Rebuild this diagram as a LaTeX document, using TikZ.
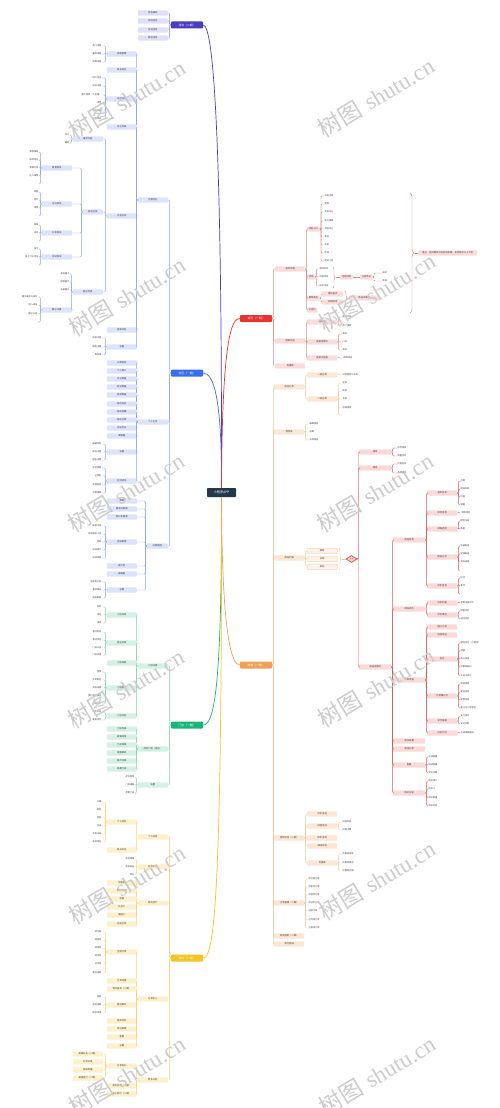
\documentclass[tikz,border=0pt]{standalone}
\usepackage{fontspec}
\newfontfamily\cjk{Noto Sans CJK SC}
\newfontfamily\wmserif{Liberation Serif}
\usetikzlibrary{shapes.geometric,decorations.pathreplacing}
\definecolor{rootc}{HTML}{22394A}
\definecolor{txtc}{HTML}{404040}
\definecolor{puC}{HTML}{4A3DBF}\definecolor{puL}{HTML}{8F88D8}\definecolor{puF}{HTML}{DFE0F7}
\definecolor{blC}{HTML}{3A6DF0}\definecolor{blL}{HTML}{93A1E8}\definecolor{blF}{HTML}{DDE3FB}
\definecolor{grC}{HTML}{18B67A}\definecolor{grL}{HTML}{7FD3AE}\definecolor{grF}{HTML}{D3F1E4}
\definecolor{yeC}{HTML}{F3C623}\definecolor{yeL}{HTML}{F0D57A}\definecolor{yeF}{HTML}{FDF1CC}
\definecolor{reC}{HTML}{E8322E}\definecolor{reL}{HTML}{D48A8A}\definecolor{reF}{HTML}{FBDCDC}
\definecolor{orC}{HTML}{F2A154}\definecolor{orL}{HTML}{F3C597}\definecolor{orF}{HTML}{FDE6D4}
\definecolor{pkL}{HTML}{D25A5A}\definecolor{pkF}{HTML}{FBD9D9}
\newcommand\KL[5]{\foreach \yy/\lbl [count=\i] in {#5}{\node[#3,anchor=east] (#2\i) at (#4,\yy) {\lbl}; \draw[ln] (#1.west) -- ++(-1.2,0) |- (#2\i.east);}}
\newcommand\KR[5]{\foreach \yy/\lbl [count=\i] in {#5}{\node[#3,anchor=west] (#2\i) at (#4,\yy) {\lbl}; \draw[ln] (#1.east) -- ++(1.2,0) |- (#2\i.west);}}
\begin{document}
\begin{tikzpicture}[x=1pt,y=-1pt,
 boxbase/.style={font=\cjk\fontsize{2.3}{2.6}\selectfont,text=txtc,rounded corners=0.8pt,minimum width=30pt,minimum height=5.4pt,inner sep=0.5pt},
 lf/.style={font=\cjk\fontsize{2.2}{2.5}\selectfont,text=txtc,inner sep=0.4pt},
 lnbase/.style={line width=0.45pt,rounded corners=1pt},
 br/.style={font=\cjk\fontsize{2.8}{3}\selectfont,text=white,rounded corners=0.8pt,minimum width=32pt,minimum height=7pt,inner sep=0.5pt},
 crv/.style={line width=0.7pt},
 brc/.style={decorate,decoration={brace,amplitude=2pt},line width=0.45pt},
 wm/.style={rotate=31,text=black!20,font=\fontsize{23}{23}\selectfont,inner sep=0pt}]
\fill[white] (0,0) rectangle (500,1108);
\useasboundingbox (0,0) rectangle (500,1108);
% root and branches
\node[font=\cjk\fontsize{3.2}{3.4}\selectfont,text=white,fill=rootc,rounded corners=0.8pt,minimum width=29pt,minimum height=9pt,inner sep=0.5pt] (root) at (221.5,492.5) {小程序APP};
\node[br,fill=puC] (Bpu) at (187,25) {消息（二期）};
\node[br,fill=blC] (Bbl) at (187,373) {社区（一期）};
\node[br,fill=grC] (Bgr) at (187,725) {门店（一期）};
\node[br,fill=yeC] (Bye) at (187,958) {我的（一期）};
\node[br,fill=reC] (Bre) at (256,318.5) {首页（一期）};
\node[br,fill=orC] (Bor) at (256,665) {商城（一期）};
\draw[crv,puC] (root.north) .. controls (222,150) and (214,25) .. (Bpu.east);
\draw[crv,blC] (root.north) .. controls (222,400) and (214,373) .. (Bbl.east);
\draw[crv,reC] (root.north) .. controls (222,335) and (232,318.5) .. (Bre.west);
\draw[crv,grC] (root.south) .. controls (222,690) and (214,725) .. (Bgr.east);
\draw[crv,yeC] (root.south) .. controls (222,900) and (214,958) .. (Bye.east);
\draw[crv,orC] (root.south) .. controls (222,640) and (232,665) .. (Bor.west);
% purple
\begin{scope}[ln/.style={lnbase,draw=puL},bx/.style={boxbase,fill=puF}]
\KL{Bpu}{pu}{bx}{168}{13/消息通知,21/系统消息,30/活动消息,38/物流消息}
\end{scope}
% blue
\begin{scope}[ln/.style={lnbase,draw=blL},bx/.style={boxbase,fill=blF}]
\KL{Bbl}{bl}{bx}{168}{200/内容社区,422/个人主页}
\KL{Bbl}{blc}{bx,minimum width=21pt}{168}{546/社群管理}
\KL{bl1}{a}{bx}{137}{54/话题管理,70/发布动态,99/动态详情,127/关注列表,216/内容分类,330/搜索功能,347/设置}
\KL{a1}{a1l}{lf}{102}{46/热门话题,54/最新话题,62/话题详情}
\KL{a3}{a3l}{lf}{102}{78/用户信息,86/动态内容,95/图片视频（九宫格）,103/点赞,111/评论列表,119/分享转发}
\KL{a5}{a5a}{bx}{103}{139/推荐内容,292/圈子列表}
\KL{a5}{a5b}{bx,minimum width=20pt}{103}{212/板块分类}
\KL{a5a1}{a5a1l}{lf}{70}{135/热门,143/最新}
\KL{a5b1}{bk}{bx}{72}{168/美食板块,204/生活板块,233/分享板块,257/活动板块}
\KL{bk1}{bk1l}{lf}{39}{152/美食推荐,160/探店笔记,168/食谱分享,176/达人推荐,184/{}}
\KL{bk2}{bk2l}{lf}{39}{192/家居,200/旅行,208/穿搭,216/{}}
\KL{bk3}{bk3l}{lf}{39}{225/种草,233/测评,241/{}}
\KL{bk4}{bk4l}{lf}{39}{249/线下,257/线上打卡活动,265/{}}
\KL{a5a2}{qz}{lf}{70}{274/我的圈子,282/推荐圈子,290/全部圈子}
\KL{a5a2}{qzb}{bx}{72}{310/圈子详情}
\KL{qzb1}{qzl}{lf}{38}{297/圈子成员与动态,305/加入退出,314/圈子公告,322/{}}
\KL{a7}{a7l}{lf}{102}{338/消息设置,347/隐私设置,355/黑名单}
\KL{bl2}{b}{bx}{137}{363/头像昵称,371/个人简介,379/关注数量,387/粉丝数量,395/获赞数量,404/我的动态,412/我的收藏,420/我的点赞,428/浏览历史,436/草稿箱,452/设置,481/互动消息}
\KL{b11}{b11l}{lf}{102}{444/编辑资料,452/账号设置,460/隐私设置}
\KL{b12}{b12l}{lf}{102}{468/评论回复,476/@我的,485/新增粉丝,493/点赞通知}
\KL{blc1}{c}{bx}{137}{501/群聊,509/群成员管理,517/群公告管理,542/活动管理,566/群文件,574/群相册,590/设置}
\KL{c4}{c4l}{lf}{102}{526/发起活动,534/活动报名人员,542/签到,550/活动统计,558/活动回顾}
\KL{c7}{c7l}{lf}{102}{582/消息免打扰,590/置顶聊天,598/退出群聊}
\end{scope}
% green
\begin{scope}[ln/.style={lnbase,draw=grL},bx/.style={boxbase,fill=grF}]
\KL{Bgr}{g}{bx}{168}{666/门店详情,749/附近门店（定位）,785/设置}
\KL{g1}{ga}{bx}{137}{615/门店信息,643/营业信息,663/门店导航,688/门店服务,716/门店评价}
\KL{ga1}{ga1l}{lf}{102}{607/名称,615/地址,623/电话}
\KL{ga2}{ga2l}{lf}{102}{632/营业时间,640/营业状态,648/门店公告,655/门店环境}
\KL{ga4}{ga4l}{lf}{102}{672/堂食,680/外卖配送,688/到店自提,696/预约到店服务,704/包间预订}
\KL{ga5}{ga5l}{lf}{102}{712/评价列表,720/发表评价}
\KL{g2}{gb}{bx}{137}{729/门店列表,737/距离排序,745/门店搜索,753/地图模式,761/城市切换,769/收藏门店}
\KL{g3}{g3l}{lf}{135}{777/定位权限,785/门店通知,793/常用门店}
\end{scope}
% yellow
\begin{scope}[ln/.style={lnbase,draw=yeL},bx/.style={boxbase,fill=yeF}]
\KL{Bye}{y}{bx}{168}{837/个人信息,867/会员中心,903/我的资产,999/订单中心,1080/更多功能}
\KL{y1}{ya}{bx}{137}{822/个人资料,850/账号安全}
\KL{ya1}{ya1l}{lf}{102}{802/头像,810/昵称,818/性别,826/生日,834/手机号码,842/收货地址}
\KL{y2}{y2l}{lf}{135}{859/会员等级,867/会员权益,875/积分}
\KL{y3}{yc}{bx}{137}{883/优惠券,891/积分明细,899/余额,907/礼品卡,915/储值卡,924/兑换记录}
\KL{y4}{yd}{bx}{137}{952/全部订单,981/订单详情,989/物流查询（二期）,1005/售后服务,1021/我的评价,1029/地址管理,1037/客服,1046/设置}
\KL{yd1}{yd1l}{lf}{102}{932/待付款,940/待发货,948/待收货,956/待评价,964/已完成,973/售后退款}
\KL{yd4}{yd4l}{lf}{102}{997/退款,1005/退货退款,1013/换货申请}
\KL{y5}{yx}{bx}{137}{1066/分享有礼,1086/意见反馈（二期）,1094/关于我们（二期）}
\KL{yx1}{yxl}{bx}{103}{1054/邀请好友（二期）,1062/分享记录,1070/奖励明细,1078/邀请排行（二期）}
\end{scope}
% red
\begin{scope}[ln/.style={lnbase,draw=reL},bx/.style={boxbase,fill=reF},bxs/.style={boxbase,fill=reF,minimum width=0pt,inner xsep=1.6pt}]
\KR{Bre}{r}{bx}{275}{269/首页内容,341/搜索功能,366/轮播图}
\KR{r1}{ra}{bxs}{307}{229/功能入口,277/活动,298/推荐商品,310/公告栏}
\KR{ra1}{ra1l}{lf}{324}{196/扫码点单,204/签到,212/会员中心,221/积分商城,229/领券中心,237/新品,245/热卖,253/活动,261/附近门店}
\KR{ra2}{ra2l}{lf}{319}{269/限时秒杀,277/拼团活动,286/砍价活动}
\draw[brc,draw=reL] (333,267) -- (333,288);
\coordinate (ra2t) at (335.5,277);
\node[bxs,anchor=west] (ra2s) at (340,277) {活动详情};
\node[bxs,anchor=west] (ra2u) at (360,277) {立即参与};
\draw[ln] (ra2t) -- (ra2s.west);
\draw[ln] (ra2s.east) -- (ra2u.west);
\KR{ra2u}{ra2ul}{lf}{382}{273/成功,281/失败}
\KR{ra3}{ra3l}{bxs,minimum width=21pt}{322}{294/猜你喜欢,302/热销榜单}
\draw[brc,draw=reL] (345,291) -- (345,305);
\coordinate (ra3t) at (347.3,298);
\node[bx,anchor=west] (ra3s) at (349,298) {商品详情页};
\draw[ln] (ra3t) -- (ra3s.west);
\draw[brc,draw=reL,decoration={amplitude=4pt}] (410,193) -- (410,313);
\coordinate (bigt) at (414.5,253);
\node[bx,anchor=west,minimum width=59pt] (note) at (418,253) {备注：首页模块可在后台配置，支持排序与上下架};
\draw[ln] (bigt) -- (note.west);
\KR{r2}{rb}{bx}{307}{322/搜索框,342/搜索结果页,358/搜索无结果}
\KR{rb1}{rb1l}{lf}{342}{317/搜索历史,326/热门搜索}
\KR{rb2}{rb2l}{lf}{342}{334/商品,342/门店,350/动态}
\KR{rb3}{rb3l}{lf}{343}{358/推荐商品}
\end{scope}
% orange
\begin{scope}[ln/.style={lnbase,draw=orL},bx/.style={boxbase,fill=orF}]
\KR{Bor}{o}{bx}{274}{387/商品分类,432/购物车,558/商品列表,838/营销活动（二期）,903/订单管理（二期）,936/商品搜索（二期）,944/积分商城}
\KR{o1}{oa}{bx}{307}{375/一级分类,399/二级分类}
\KR{oa1}{oa1l}{lf}{342}{375/分类图标与名称}
\KR{oa2}{oa2l}{lf}{342}{383/全部,391/新品,399/热销,408/价格排序,415/{}}
\KR{o2}{o2l}{lf}{309}{424/编辑商品,432/结算,440/失效商品}
\KR{o3}{oc}{bx,draw=orL,line width=0.3pt,fill=orF!50}{307}{551/推荐,559/热销,567/新品}
\draw[brc,draw=orL] (339,548) -- (339,570);
\coordinate (oct) at (341.5,559);
\node[diamond,aspect=2,draw=reC,line width=0.6pt,fill=pkF,inner sep=0.2pt,minimum width=11pt,minimum height=7pt,font=\cjk\fontsize{1.8}{2}\selectfont,text=reC] (hub) at (351.5,559) {商品};
\draw[ln] (oct) -- (hub.west);
\KR{o4}{od}{bx}{307}{814/秒杀活动,826/拼团活动,838/砍价活动,846/满减活动,863/优惠券}
\KR{od2}{od2l}{lf}{342}{822/拼团列表,830/拼团详情}
\KR{od5}{od5l}{lf}{342}{854/优惠券领取,863/优惠券使用,871/优惠券过期}
\KR{o5}{o5l}{lf}{308}{879/待付款订单,887/待发货订单,895/待收货订单,903/待评价订单,911/退款订单,920/已完成订单,928/已取消订单}
\end{scope}
% pink subtree
\begin{scope}[ln/.style={lnbase,draw=pkL},bx/.style={boxbase,fill=pkF,minimum width=32pt}]
\KR{hub}{p}{bx}{359}{452/排序,468/筛选,667/商品详情页}
\KR{p1}{p1l}{lf}{397}{448/综合排序,456/销量优先}
\KR{p2}{p2l}{lf}{397}{464/价格区间,473/品牌筛选}
\KR{p3}{pc}{bx}{393}{540/商品信息,609/商品评价,680/下单流程,741/商品收藏,749/商品分享,765/客服,793/购买记录}
\KR{pc1}{q}{bx,minimum width=30pt}{427}{493/基本信息,513/库存信息,529/规格选择,557/配送方式,586/评价信息}
\KR{q1}{q1l}{lf}{460}{481/主图,489/商品名称,497/价格,505/销量}
\KR{q2}{q2l}{lf}{461}{513/剩余库存}
\KR{q3}{q3l}{lf}{460}{521/颜色尺码,529/数量}
\KR{q4}{q4l}{lf}{460}{546/快递配送,554/同城配送,562/到店自提,571/{}}
\KR{q5}{q5l}{lf}{460}{578/好评,586/差评,594/{}}
\KR{pc2}{pb}{bx,minimum width=30pt}{427}{603/评价列表,615/评价筛选}
\KR{pb1}{pb1l}{lf}{460}{603/查看全部评价}
\KR{pb2}{pb2l}{lf}{460}{611/带图评价,619/追加评价}
\KR{pc3}{pcc}{bx,minimum width=30pt}{427}{627/确认订单,635/选择地址,659/支付,696/订单确认页,721/支付结果,733/好友代付}
\KR{pcc3}{pcc3l}{lf}{460}{643/微信支付（小程序）,651/余额,659/积分抵扣,667/优惠券抵扣,676/礼品卡支付}
\KR{pcc4}{pcc4l}{lf}{460}{684/商品清单,692/配送信息,700/发票信息,708/备注与订单留言}
\KR{pcc5}{pcc5l}{lf}{460}{716/支付成功,724/支付失败}
\KR{pcc6}{pcc6l}{lf}{460}{733/生成海报链接}
\KR{pc6}{pc6l}{lf}{428}{757/在线客服,765/电话客服,773/常见问题}
\KR{pc7}{pc7l}{lf}{428}{781/购买用户,789/购买人,798/购买数量,806/购买时间}
\end{scope}
% watermarks
\foreach \wx/\wy [count=\k] in {127/99,127/296,126/492,126/688,127/884,127/1075,376/97,377/292,375/492,376/687,377/880,377/1075}{
 \node[wm] (wm\k) at (\wx,\wy) {{\cjk 树图} {\wmserif shutu.cn}};}
\end{tikzpicture}
\end{document}
